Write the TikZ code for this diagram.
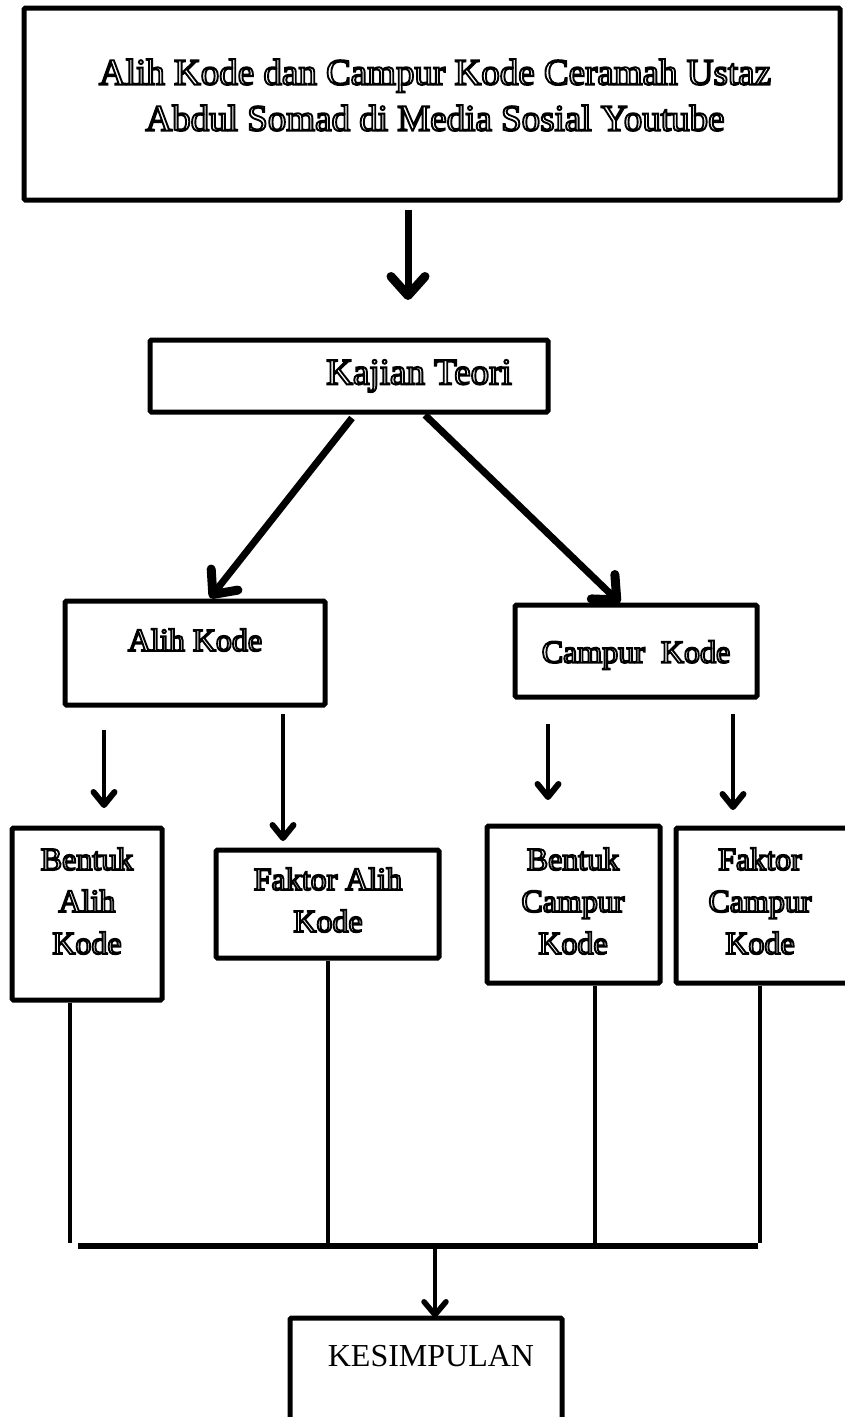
\documentclass[tikz,border=0pt]{standalone}
\usepackage{fontspec}
\setmainfont{Liberation Serif}
\usetikzlibrary{arrows.meta}
\newcommand\olt[1]{\special{pdf:literal direct 2 Tr 1.9 w 1 g 0 G}#1\special{pdf:literal direct 0 Tr 0 g 0 G}}
\begin{document}
\begin{tikzpicture}[x=1pt,y=-1pt,
  box/.style={draw, line width=5pt, rounded corners=1.5pt, inner sep=0pt, fill=white},
  txt/.style={align=center, inner sep=0pt, font=\fontsize{32}{42}\selectfont},
  bigtxt/.style={align=center, inner sep=0pt, font=\fontsize{37}{46}\selectfont},
  bigarr/.style={line width=7pt, -{Straight Barb[length=19pt,width=34pt,line width=9pt,round]}},
  smallarr/.style={line width=3.5pt, -{Straight Barb[length=13pt,width=21pt,line width=6pt,round]}},
  vline/.style={line width=4pt},
  hline/.style={line width=6pt}]
\useasboundingbox (0,0) rectangle (845,1417);
\clip (0,0) rectangle (845,1417);

% boxes
\node[box, minimum width=816pt, minimum height=192pt] (top) at (432,104) {};
\node[box, minimum width=398pt, minimum height=72pt] (kaj) at (349,376) {};
\node[box, minimum width=260pt, minimum height=104pt] (alih) at (195,653) {};
\node[box, minimum width=242pt, minimum height=92pt] (camp) at (636,651) {};
\node[box, minimum width=150pt, minimum height=172pt] (bak) at (87,914) {};
\node[box, minimum width=223pt, minimum height=108pt] (fak) at (327.5,904) {};
\node[box, minimum width=173pt, minimum height=157pt] (bck) at (573.5,904.5) {};
\node[box, minimum width=172pt, minimum height=155pt] (fck) at (762,905.5) {};
\node[box, minimum width=272pt, minimum height=130pt] (kes) at (426,1383) {};

% texts
\node[bigtxt] (toptxt) at (435,95) {\olt{Alih Kode dan Campur Kode Ceramah Ustaz}\\\olt{Abdul Somad di Media Sosial Youtube}};
\node[bigtxt] (kajtxt) at (419,376) {\olt{Kajian Teori}};
\node[txt] (alihtxt) at (195,640) {\olt{Alih Kode}};
\node[txt] (camptxt) at (636,655) {\olt{Campur\ \ Kode}};
\node[txt] (baktxt) at (87,901) {\olt{Bentuk}\\\olt{Alih}\\\olt{Kode}};
\node[txt] (faktxt) at (328,900) {\olt{Faktor Alih}\\\olt{Kode}};
\node[txt] (bcktxt) at (573,901) {\olt{Bentuk}\\\olt{Campur}\\\olt{Kode}};
\node[txt] (fcktxt) at (760,901) {\olt{Faktor}\\\olt{Campur}\\\olt{Kode}};
\node[txt] (kestxt) at (431,1356) {KESIMPULAN};

% arrow coordinates
\coordinate (a1s) at (408,210);
\coordinate (a1e) at (408,300);
\coordinate (dls) at (352,418);
\coordinate (dle) at (210,598);
\coordinate (drs) at (425,415);
\coordinate (dre) at (620,603);
\coordinate (s1s) at (104,730);
\coordinate (s1e) at (104,808);
\coordinate (s2s) at (283,714);
\coordinate (s2e) at (283,841);
\coordinate (s3s) at (548,724);
\coordinate (s3e) at (548,800);
\coordinate (s4s) at (733,714);
\coordinate (s4e) at (733,810);

\draw[bigarr] (a1s) -- (a1e);
\draw[bigarr] (dls) -- (dle);
\draw[bigarr] (drs) -- (dre);
\draw[smallarr] (s1s) -- (s1e);
\draw[smallarr] (s2s) -- (s2e);
\draw[smallarr] (s3s) -- (s3e);
\draw[smallarr] (s4s) -- (s4e);

% collecting lines
\coordinate (v1) at (70,1243);
\coordinate (v2) at (328,1246);
\coordinate (v3) at (595,1246);
\coordinate (v4) at (760,1243);
\coordinate (h1) at (78,1246);
\coordinate (h2) at (758,1246);
\coordinate (hm) at (435,1246);
\draw[vline] (bak.south -| v1) -- (v1);
\draw[vline] (fak.south -| v2) -- (v2);
\draw[vline] (bck.south -| v3) -- (v3);
\draw[vline] (fck.south -| v4) -- (v4);
\draw[hline] (h1) -- (h2);
\draw[line width=4pt, -{Straight Barb[length=13pt,width=22pt,line width=5.5pt,round]}] (hm) -- ([yshift=-2pt]kes.north -| hm);
\end{tikzpicture}
\end{document}
